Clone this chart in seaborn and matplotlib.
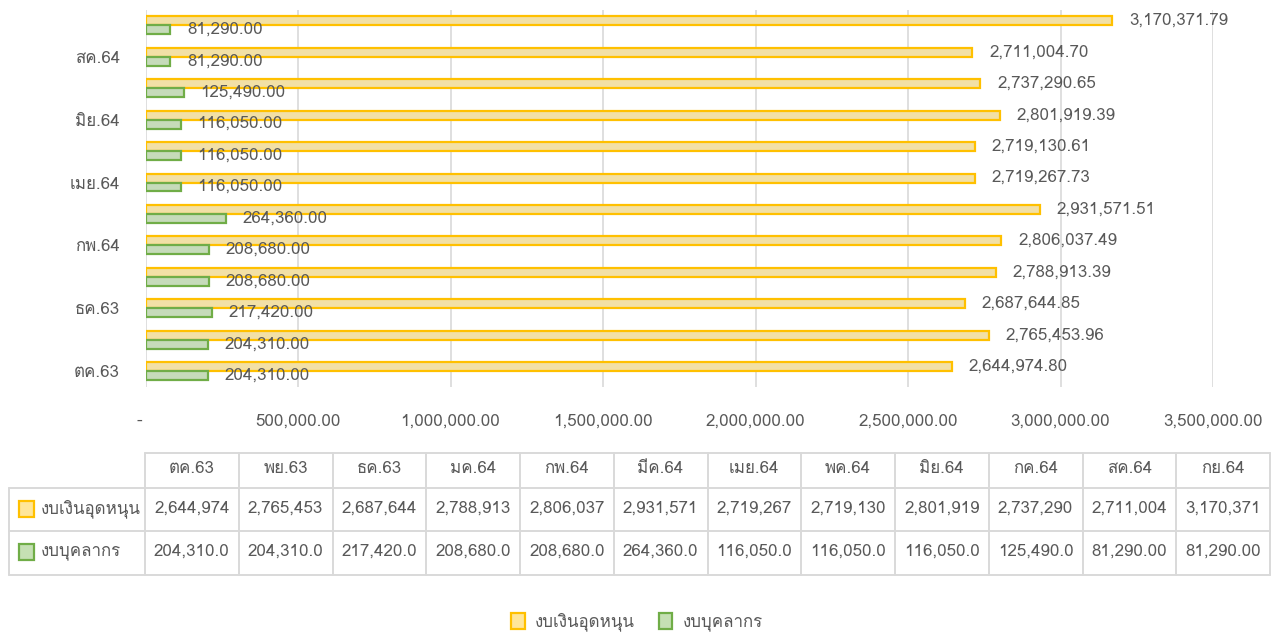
#!/usr/bin/env python3

import matplotlib

matplotlib.use("Agg")

import matplotlib.pyplot as plt
import pandas as pd
import seaborn as sns
from matplotlib import font_manager
from matplotlib.ft2font import FT2Font
from matplotlib.patches import Patch, Rectangle
from matplotlib.ticker import FixedLocator, FuncFormatter

months = [
    "ตค.63", "พย.63", "ธค.63", "มค.64", "กพ.64", "มีค.64",
    "เมย.64", "พค.64", "มิย.64", "กค.64", "สค.64", "กย.64",
]
subsidy = [
    2644974.80, 2765453.96, 2687644.85, 2788913.39, 2806037.49, 2931571.51,
    2719267.73, 2719130.61, 2801919.39, 2737290.65, 2711004.70, 3170371.79,
]
personnel = [
    204310.00, 204310.00, 217420.00, 208680.00, 208680.00, 264360.00,
    116050.00, 116050.00, 116050.00, 125490.00, 81290.00, 81290.00,
]
series_names = ["งบเงินอุดหนุน", "งบบุคลากร"]
x_ticks = [0, 500000, 1000000, 1500000, 2000000, 2500000, 3000000, 3500000]

FILL = {"งบเงินอุดหนุน": "#FFE699", "งบบุคลากร": "#C5E0B4"}
EDGE = {"งบเงินอุดหนุน": "#FFC000", "งบบุคลากร": "#70AD47"}
TEXT = "#595959"
GRID = "#D9D9D9"
FS = 12.2


def find_thai_font() -> str | None:
    for entry in font_manager.fontManager.ttflist:
        try:
            if FT2Font(entry.fname).get_char_index(ord("ก")):
                return entry.name
        except Exception:
            continue
    return None


sns.set_theme(style="white")
thai = find_thai_font()
plt.rcParams["font.family"] = [thai, "DejaVu Sans"] if thai else ["DejaVu Sans"]

df = pd.DataFrame(
    {
        "month": months * 2,
        "value": subsidy + personnel,
        "series": [series_names[0]] * len(months) + [series_names[1]] * len(months),
    }
)

W, H = 1274, 634
fig = plt.figure(figsize=(W / 100, H / 100), dpi=100)
ax = fig.add_axes([145.5 / W, 1 - 387 / H, (1213 - 145.5) / W, (387 - 9.5) / H])

sns.barplot(
    data=df,
    x="value",
    y="month",
    hue="series",
    order=months[::-1],
    hue_order=series_names,
    palette=FILL,
    width=0.57,
    orient="h",
    legend=False,
    errorbar=None,
    ax=ax,
)

for name, container in zip(series_names, ax.containers):
    for bar in container:
        bar.set_edgecolor(EDGE[name])
        bar.set_linewidth(1.6)
    ax.bar_label(
        container,
        labels=[f"{v:,.2f}" for v in container.datavalues],
        padding=12,
        fontsize=FS,
        color=TEXT,
    )

ax.set_xlim(0, 3500000)
ax.xaxis.set_major_locator(FixedLocator(x_ticks))
ax.xaxis.set_major_formatter(FuncFormatter(lambda v, _: "-  " if v == 0 else f"{v:,.2f}"))
ax.grid(axis="x", color=GRID, linewidth=1.2)
ax.set_axisbelow(True)
for spine in ax.spines.values():
    spine.set_visible(False)
ax.set_xlabel("")
ax.set_ylabel("")
ax.set_yticks(range(len(months)))
ax.set_yticklabels([m if months.index(m) % 2 == 0 else "" for m in months[::-1]])
ax.tick_params(axis="x", length=0, pad=19, labelsize=FS, labelcolor=TEXT)
ax.tick_params(axis="y", length=0, pad=18.5, labelsize=FS, labelcolor=TEXT)

# data table below the chart, drawn in pixel coordinates
tab = fig.add_axes([0, 0, 1, 1], facecolor="none")
tab.set_xlim(0, W)
tab.set_ylim(H, 0)
tab.axis("off")

col_left, col_right = 145, 1270
col_w = (col_right - col_left) / len(months)
row_edges = [453, 488, 531, 575]
lw = 1.4

tab.plot([col_left, col_right], [row_edges[0]] * 2, color=GRID, lw=lw)
for yy in row_edges[1:]:
    tab.plot([9, col_right], [yy, yy], color=GRID, lw=lw)
tab.plot([9, 9], [row_edges[1], row_edges[3]], color=GRID, lw=lw)
for i in range(len(months) + 1):
    xx = col_left + i * col_w
    tab.plot([xx, xx], [row_edges[0], row_edges[3]], color=GRID, lw=lw)

for i, m in enumerate(months):
    cx = col_left + (i + 0.5) * col_w
    tab.text(cx, 469, m, ha="center", va="center", fontsize=FS, color=TEXT)
    tab.text(cx, 509, f"{subsidy[i]:,.2f}"[:9], ha="center", va="center", fontsize=FS, color=TEXT)
    tab.text(cx, 552, f"{personnel[i]:,.2f}"[:9], ha="center", va="center", fontsize=FS, color=TEXT)

for name, cy in zip(series_names, [509, 552]):
    tab.add_patch(
        Rectangle((19, cy - 8), 15, 16, facecolor=FILL[name], edgecolor=EDGE[name], lw=1.6)
    )
    tab.text(41, cy, name, ha="left", va="center", fontsize=FS, color=TEXT)

handles = [Patch(facecolor=FILL[n], edgecolor=EDGE[n], linewidth=1.6) for n in series_names]
fig.legend(
    handles,
    series_names,
    loc="center",
    bbox_to_anchor=(0.5, 1 - 622 / H),
    ncol=2,
    frameon=False,
    handlelength=0.8,
    handleheight=1.1,
    handletextpad=0.6,
    columnspacing=1.4,
    fontsize=FS,
    labelcolor=TEXT,
)

fig.savefig("out.png", dpi=100)
